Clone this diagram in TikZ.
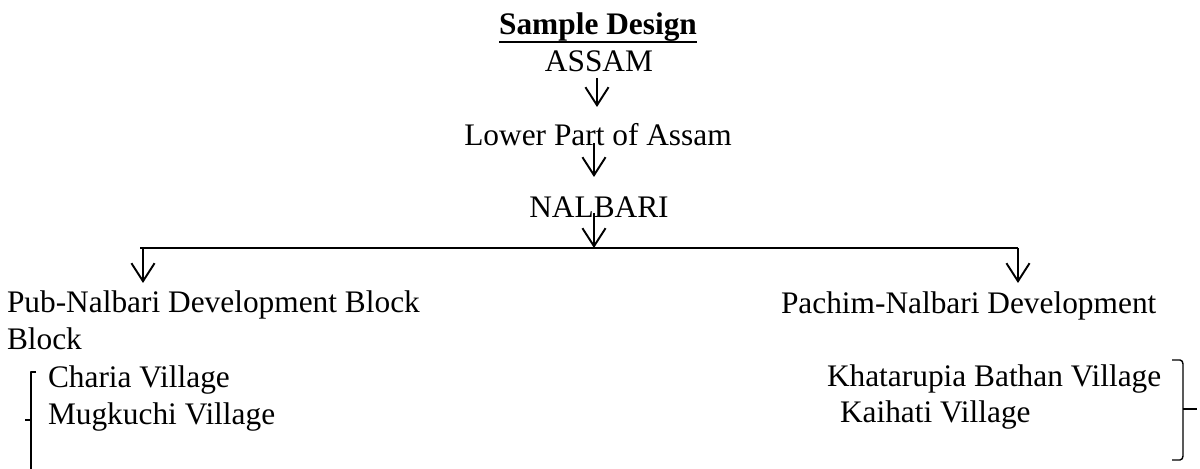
\documentclass[tikz,border=0pt]{standalone}
\usepackage{fontspec}
\setmainfont{Liberation Serif}
\usetikzlibrary{arrows.meta,calc}
\begin{document}
\begin{tikzpicture}[x=0.389pt,y=-0.389pt,
  txt/.style={inner sep=0pt,outer sep=0pt,font=\fontsize{12.2}{14}\selectfont},
  ctxt/.style={txt,anchor=base},
  ltxt/.style={txt,anchor=base west},
  arr/.style={line width=0.75pt,-{Straight Barb[length=7pt,width=9pt,line width=0.75pt]}},
  bar/.style={line width=0.8pt},
  uline/.style={line width=0.95pt},
  brk/.style={line width=0.55pt,line join=round}]
\useasboundingbox[fill=white] (0,0) rectangle (1200,469);
% titles
\node[ctxt] (title) at (598,35) {\textbf{Sample Design}};
\node[ctxt] (assam) at (599,72) {ASSAM};
\node[ctxt] (lower) at (598,146) {Lower Part of Assam};
\node[ctxt] (nalbari) at (599,218) {NALBARI};
\draw[uline] ($(title.base west)+(0,7)$) -- ($(title.base east)+(0,7)$);
% level texts
\node[ltxt] (pub) at (7,313) {Pub-Nalbari Development Block};
\node[ltxt] (pubb) at (7,350) {Block};
\node[ltxt] (charia) at (48,388) {Charia Village};
\node[ltxt] (mugk) at (48,425) {Mugkuchi Village};
\node[ltxt] (pach) at (781,314) {Pachim-Nalbari Development};
\node[ltxt] (khat) at (827,387) {Khatarupia Bathan Village};
\node[ltxt] (kaih) at (840,423) {Kaihati Village};
% connector points
\coordinate (a1s) at ($(assam.base)+(-2,6)$);
\coordinate (a1e) at ($(lower.base)+(-1,-39)$);
\coordinate (a2s) at ($(lower.base)+(-4,-3)$);
\coordinate (a2e) at ($(nalbari.base)+(-5,-41)$);
\coordinate (a3s) at ($(nalbari.base)+(-5,-5)$);
\coordinate (hm) at (594,248);
\coordinate (hl) at (143,248);
\coordinate (hr) at (1018,248);
\coordinate (pubtop) at (143,283);
\coordinate (pachtop) at (1018,283);
% connectors
\draw[arr] (a1s) -- (a1e);
\draw[arr] (a2s) -- (a2e);
\draw[arr] (a3s) -- (hm);
\draw[bar] (140,248) -- (hl) -- (hm) -- (hr);
\draw[arr] (hl) -- (pubtop);
\draw[arr] (hr) -- (pachtop);
% left bracket
\draw[brk] (36,372) -- (31,372) -- (31,470);
\draw[brk] (25,420) -- (31,420);
% right bracket
\draw[brk] (1172,360) -- (1180,360) to[out=0,in=90] (1183,364) -- (1183,456) to[out=-90,in=0] (1180,460) -- (1172,460);
\draw[brk] (1183,409) -- (1197,409);
\end{tikzpicture}
\end{document}
